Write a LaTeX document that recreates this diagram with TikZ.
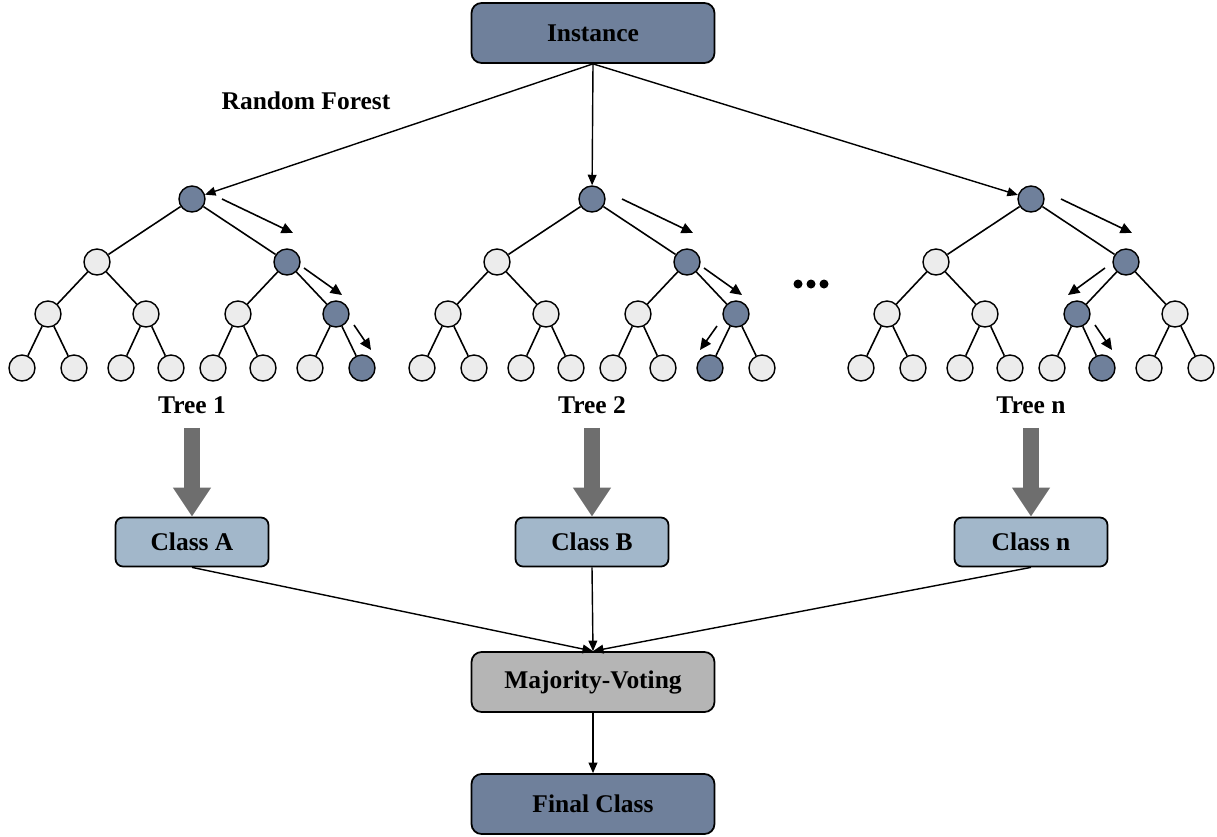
\documentclass[tikz,border=0pt]{standalone}
\usepackage{fontspec}
\setmainfont{Liberation Serif}
\usetikzlibrary{arrows.meta,calc}

\definecolor{slate}{RGB}{111,128,155}
\definecolor{paleblue}{RGB}{162,183,202}
\definecolor{votegray}{RGB}{181,181,181}
\definecolor{leafgray}{RGB}{236,236,236}
\definecolor{fatgray}{RGB}{110,110,110}

\tikzset{
	txt/.style={font=\fontsize{14.5}{16}\selectfont\bfseries, inner sep=0pt},
	bigbox/.style={txt, draw, line width=1pt, rounded corners=0.2cm, minimum width=4.86cm, minimum height=1.2cm},
	classbox/.style={txt, draw, line width=1pt, rounded corners=0.15cm, fill=paleblue, minimum width=3.06cm, minimum height=0.98cm},
	darkdot/.style={circle, draw, line width=0.8pt, fill=slate, minimum size=0.52cm, inner sep=0pt},
	paledot/.style={circle, draw, line width=0.8pt, fill=leafgray, minimum size=0.52cm, inner sep=0pt},
	edge/.style={line width=0.9pt},
	link/.style={line width=0.8pt, -{Triangle[length=6pt,width=5pt]}},
	walk/.style={line width=0.9pt, -{Triangle[length=6.5pt,width=6pt]}},
	fat/.style={draw=fatgray, line width=9.1pt, -{Triangle[length=16.5pt,width=20.5pt]}}
}

\begin{document}
\begin{tikzpicture}[x=0.02cm, y=-0.02cm]
	\useasboundingbox (0,0) rectangle (1217,836);
	
	\node[bigbox, fill=slate] (inst) at (593,33) {Instance};
	\node[txt] (rf) at (306,101) {Random Forest};
	
	% trees, labels and classes
	\foreach \t/\rx/\a/\b/\c in {1/192/7/15/A, 2/592/7/14/B, n/1031/6/13/n}{
		\foreach \i/\dx/\dy in {1/0/0, 2/-95/63, 3/95/63, 4/-144/115, 5/-46/115, 6/46/115, 7/144/115,
			8/-170/169, 9/-118/169, 10/-71/169, 11/-21/169, 12/21/169, 13/71/169, 14/118/169, 15/170/169}{
			\pgfmathtruncatemacro\hl{(\i==1)||(\i==3)||(\i==\a)||(\i==\b)}
			\ifnum\hl=1 \def\look{darkdot}\else\def\look{paledot}\fi
			\node[\look] (T\t-\i) at ($(\rx,199)+(\dx,\dy)$) {};
		}
		\foreach \i in {2,...,15}{
			\pgfmathtruncatemacro\p{\i/2}
			\draw[edge] (T\t-\p) -- (T\t-\i);
		}
		\node[txt] (L\t) at (\rx,405) {Tree \t};
		\node[classbox] (C\t) at (\rx,542) {Class \c};
		\draw[fat] ($(L\t.south)+(0,14)$) -- (C\t.north);
		\draw[link] (inst.south) -- (T\t-1);
	}
	
	% path arrows
	\draw[walk] ($(T1-1)+(30,0)$) -- ($(T1-1)+(101,34)$);
	\draw[walk] ($(T1-3)+(17,6)$) -- ($(T1-3)+(55,33)$);
	\draw[walk] ($(T1-7)+(18,11)$) -- ($(T1-7)+(35,36)$);
	
	\draw[walk] ($(T2-1)+(30,0)$) -- ($(T2-1)+(101,34)$);
	\draw[walk] ($(T2-3)+(17,6)$) -- ($(T2-3)+(55,33)$);
	\draw[walk] ($(T2-7)+(-19,12)$) -- ($(T2-7)+(-36,36)$);
	
	\draw[walk] ($(Tn-1)+(30,0)$) -- ($(Tn-1)+(101,34)$);
	\draw[walk] ($(Tn-3)+(-21,6)$) -- ($(Tn-3)+(-58,33)$);
	\draw[walk] ($(Tn-6)+(18,11)$) -- ($(Tn-6)+(35,36)$);
	
	% dots
	\fill (798,284) circle [radius=4.5];
	\fill (811,284) circle [radius=4.5];
	\fill (824,284) circle [radius=4.5];
	
	\node[bigbox, fill=votegray] (vote) at (593,682) {Majority-Voting};
	\node[bigbox, fill=slate] (final) at (593,804) {Final Class};
	
	\draw[link] (C1.south) -- (vote.north);
	\draw[link] (C2.south) -- (vote.north);
	\draw[link] (Cn.south) -- (vote.north);
	\draw[link] (vote.south) -- (final.north);
	
\end{tikzpicture}
\end{document}
